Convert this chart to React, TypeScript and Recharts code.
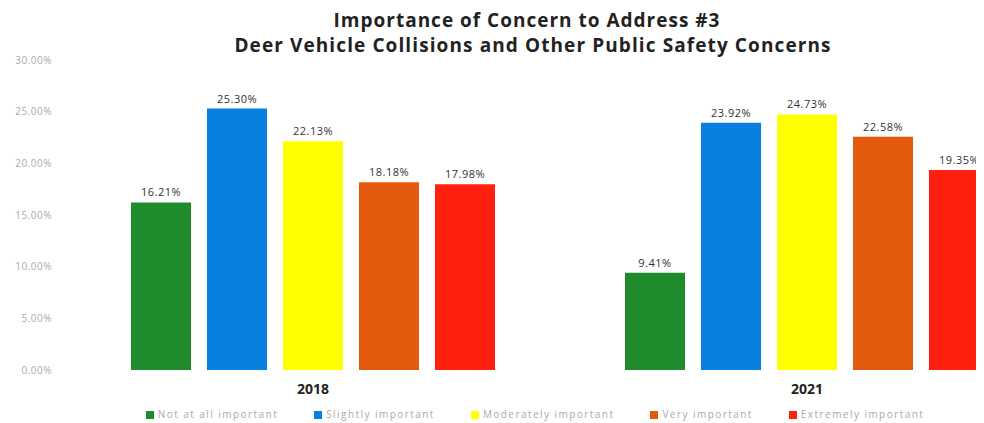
import React from "react";
import { BarChart, Bar, XAxis, YAxis, Legend, LabelList } from "recharts";

const years = ["2018", "2021"];
const seriesNames = [
  "Not at all important",
  "Slightly important",
  "Moderately important",
  "Very important",
  "Extremely important",
];
const notAtAll = [16.21, 9.41];
const slightly = [25.3, 23.92];
const moderately = [22.13, 24.73];
const very = [18.18, 22.58];
const extremely = [17.98, 19.35];
const yTicks = [0, 5, 10, 15, 20, 25, 30];
const colors = ["#1f8b2d", "#0a7fe2", "#ffff00", "#e3590d", "#ff2010"];
const seriesValues = [notAtAll, slightly, moderately, very, extremely];

const data = years.map((y, i) => {
  const row: Record<string, any> = { year: y };
  seriesNames.forEach((n, k) => {
    row[n] = seriesValues[k][i];
  });
  return row;
});

const fmt = (v: any) => `${Number(v).toFixed(2)}%`;

export default function App() {
  return (
    <div style={{ position: "relative", width: 976, height: 415, overflow: "hidden" }}>
      <div
        style={{
          position: "absolute",
          left: 0,
          top: 0,
          width: 1060,
          textAlign: "center",
          fontFamily: "'Open Sans', sans-serif",
          fontWeight: 700,
          fontSize: 19,
          letterSpacing: 1,
          lineHeight: "25px",
          color: "#222",
          zIndex: 2,
        }}
      >
        <div style={{ marginLeft: -22 }}>Importance of Concern to Address #3</div>
        <div style={{ marginLeft: -10, letterSpacing: 1.1 }}>Deer Vehicle Collisions and Other Public Safety Concerns</div>
      </div>
      <BarChart
        width={1060}
        height={415}
        data={data}
        margin={{ top: 52, right: 14, bottom: 9, left: 8 }}
        barCategoryGap={65}
        barGap={16}
        barSize={60}
      >
        <XAxis
          dataKey="year"
          axisLine={false}
          tickLine={false}
          tickMargin={8}
          tick={{ fontSize: 14, fontWeight: 700, fill: "#222", fontFamily: "'Open Sans', sans-serif" }}
        />
        <YAxis
          width={50}
          domain={[0, 30]}
          ticks={yTicks}
          axisLine={false}
          tickLine={false}
          tickMargin={8}
          tickFormatter={fmt}
          tick={{ fontSize: 10, fill: "#aaa", fontFamily: "'Open Sans', sans-serif", letterSpacing: 0.5 }}
        />
        <Legend
          verticalAlign="bottom"
          iconType="square"
          iconSize={8}
          itemSorter={null as any}
          wrapperStyle={{ fontFamily: "'Open Sans', sans-serif", fontSize: 10, bottom: 2, paddingLeft: 18 }}
          formatter={(v: any) => (
            <span style={{ color: "#aaa", letterSpacing: 1.45, marginRight: 26 }}>{v}</span>
          )}
        />
        {seriesNames.map((n, k) => (
          <Bar key={n} dataKey={n} fill={colors[k]} isAnimationActive={false}>
            <LabelList
              dataKey={n}
              position="top"
              offset={6}
              formatter={fmt}
              style={{ fontSize: 11, fill: "#333", fontFamily: "'Open Sans', sans-serif", letterSpacing: 0.5 }}
            />
          </Bar>
        ))}
      </BarChart>
    </div>
  );
}
